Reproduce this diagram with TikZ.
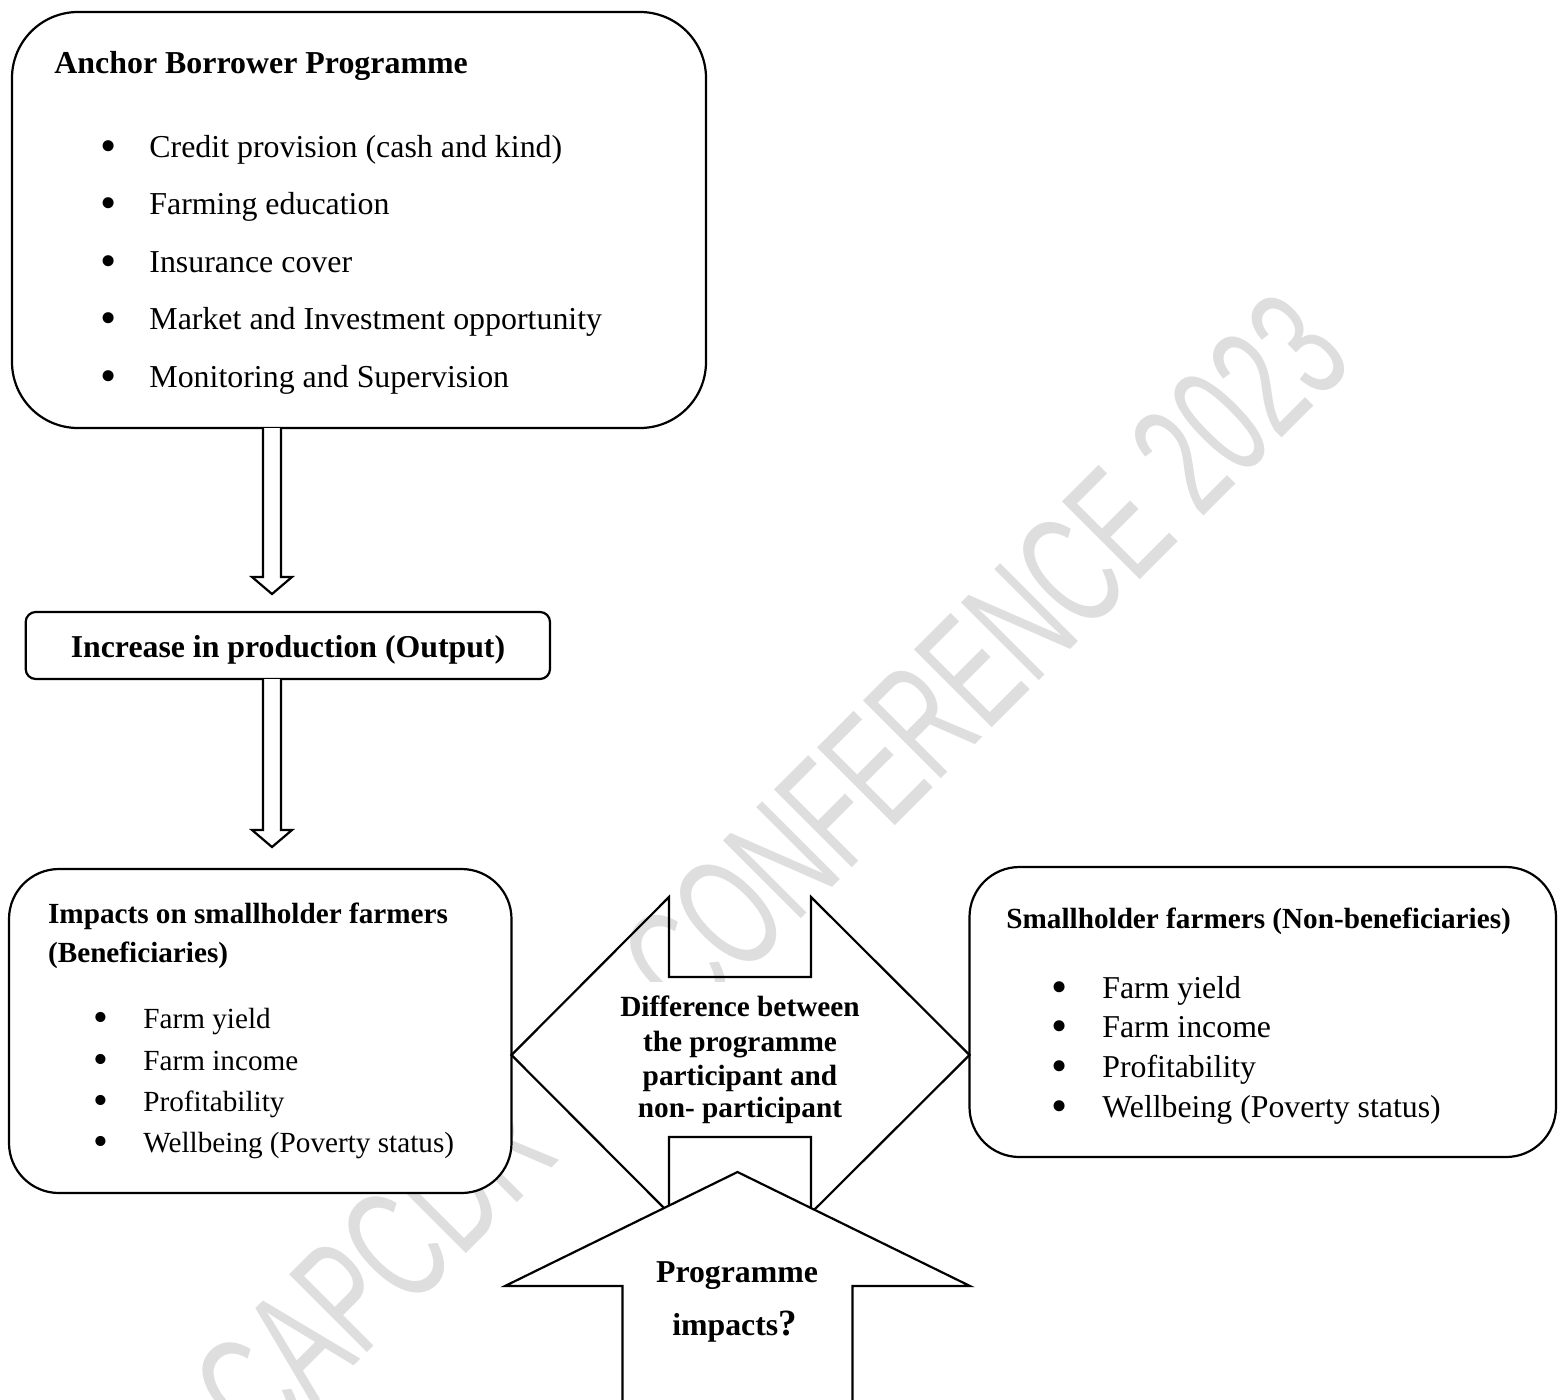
\documentclass[tikz,border=0pt]{standalone}
\usepackage{fontspec}
\setmainfont{Liberation Serif}
\newfontfamily\wmfont{Liberation Sans}
\usetikzlibrary{calc}
\definecolor{wmgray}{RGB}{222,222,222}
\newcommand\fsTop{\fontsize{15.95pt}{19pt}\selectfont}
\newcommand\fsOut{\fontsize{15.9pt}{19pt}\selectfont\bfseries}
\newcommand\fsLeft{\fontsize{14.6pt}{17pt}\selectfont}
\newcommand\fsRight{\fontsize{15.9pt}{19pt}\selectfont}
\newcommand\fsDiff{\fontsize{14.65pt}{17pt}\selectfont\bfseries}
\newcommand\fsProg{\fontsize{15.9pt}{19pt}\selectfont\bfseries}
\newcommand\bigbul{\raisebox{-0.13em}{\scalebox{1.45}{•}}}
\tikzset{
  box/.style={draw=black, line width=1.1pt, fill=white, inner sep=0pt, outer sep=0pt},
  hollow/.style={draw=black, line width=1.1pt, fill=white, line join=miter},
  shapeline/.style={draw=black, line width=1.1pt, line join=miter},
  wm/.style={text=wmgray, font=\wmfont\fontsize{80pt}{80pt}\selectfont, inner sep=0pt, rotate=45, anchor=base west},
  lbl/.style={inner sep=0pt, anchor=base west},
  ctr/.style={inner sep=0pt, anchor=base},
}
\begin{document}
\begin{tikzpicture}[x=0.5pt,y=-0.5pt]
\useasboundingbox (0,0) rectangle (1558,1399);
% watermark
\node[wm] (wm1) at (262,1458) {\scalebox{0.63}[1]{CAPCDR}};
\node[wm] (wm2) at (690,1030) {\scalebox{0.62}[1]{CONFERENCE 2023}};
% boxes
\node[box, rounded corners=33pt, minimum width=347pt, minimum height=208pt] (abp) at (359,220) {};
\node[box, rounded corners=5pt, minimum width=262.15pt, minimum height=33.5pt] (out) at (287.85,645.5) {};
\node[box, rounded corners=25pt, minimum width=251.25pt, minimum height=162pt] (lb) at (260.25,1031) {};
\node[box, rounded corners=25pt, minimum width=293.25pt, minimum height=145pt] (rb) at (1262.75,1012) {};
% top box text
\node[lbl, font=\fsTop\bfseries] (abpt) at (54,73) {Anchor Borrower Programme};
\foreach \yy/\tt [count=\i] in {157/Credit provision (cash and kind), 214.5/Farming education, 272/Insurance cover, 329.5/Market and Investment opportunity, 387/Monitoring and Supervision}{
  \node[ctr, font=\fsTop] (ab\i) at (109,\yy) {\bigbul};
  \node[lbl, font=\fsTop] (at\i) at (149,\yy) {\tt};
}
% output text
\node[ctr, font=\fsOut] (outt) at (288,657) {Increase in production (Output)};
% hollow arrows
\coordinate (ax) at (272,0);
\coordinate (s1) at (abp.south -| ax);
\coordinate (s2) at (out.south -| ax);
\coordinate (t1) at ($(out.north -| ax)+(0,-18)$);
\coordinate (t2) at ($(lb.north -| ax)+(0,-22)$);
\draw[hollow] ($(s1)+(-9,0)$) -- ($(t1)+(-9,-17)$) -- ($(t1)+(-20,-17)$) -- (t1) -- ($(t1)+(20,-17)$) -- ($(t1)+(9,-17)$) -- ($(s1)+(9,0)$);
\draw[hollow] ($(s2)+(-9,0)$) -- ($(t2)+(-9,-17)$) -- ($(t2)+(-20,-17)$) -- (t2) -- ($(t2)+(20,-17)$) -- ($(t2)+(9,-17)$) -- ($(s2)+(9,0)$);
% left box text
\node[lbl, font=\fsLeft\bfseries] (lbt1) at (47.7,923) {Impacts on smallholder farmers};
\node[lbl, font=\fsLeft\bfseries] (lbt2) at (47.7,962) {(Beneficiaries)};
\foreach \yy/\tt [count=\i] in {1028/Farm yield, 1070/Farm income, 1111/Profitability, 1152/Wellbeing (Poverty status)}{
  \node[ctr, font=\fsLeft] (lbb\i) at (101,\yy) {\bigbul};
  \node[lbl, font=\fsLeft] (lbi\i) at (143,\yy) {\tt};
}
% right box text
\node[lbl, font=\fsLeft\bfseries] (rbt) at (1006,928) {Smallholder farmers (Non-beneficiaries)};
\foreach \yy/\tt [count=\i] in {998/Farm yield, 1037/Farm income, 1077/Profitability, 1117/Wellbeing (Poverty status)}{
  \node[ctr, font=\fsRight] (rbb\i) at (1060,\yy) {\bigbul};
  \node[lbl, font=\fsRight] (rbi\i) at (1102,\yy) {\tt};
}
% double arrow (difference)
\coordinate (dy) at (0,1055);
\coordinate (dL) at (lb.east |- dy);
\coordinate (dR) at (rb.west |- dy);
\node[fill=white, inner sep=0pt, minimum width=192pt, minimum height=75.5pt] (diffbg) at (740,1057.5) {};
\draw[shapeline] (dL) -- ++(157.5,-158) -- ++(0,80) -- ($(dR)+(-158.5,-78)$) -- ++(0,-80) -- (dR) -- ++(-158.5,158) -- ++(0,-76) -- ($(dL)+(157.5,82)$) -- ++(0,76) -- cycle;
\node[ctr, font=\fsDiff] (d1) at (740,1016.7) {Difference between};
\node[ctr, font=\fsDiff] (d2) at (740,1051) {the programme};
\node[ctr, font=\fsDiff] (d3) at (740,1085.5) {participant and};
\node[ctr, font=\fsDiff] (d4) at (740,1117.6) {non- participant};
% up arrow (programme impacts)
\coordinate (uptip) at (737.5,1172);
\draw[hollow] ($(uptip)+(-115,240)$) -- ($(uptip)+(-115,114)$) -- ($(uptip)+(-232.5,114)$) -- (uptip) -- ($(uptip)+(232.5,114)$) -- ($(uptip)+(115,114)$) -- ($(uptip)+(115,240)$);
\node[ctr, font=\fsProg] (p1) at (737,1282) {Programme};
\node[ctr, font=\fsProg] (p2) at (734.5,1335) {impacts{\fontsize{18.5pt}{20pt}\selectfont ?}};
\end{tikzpicture}
\end{document}
